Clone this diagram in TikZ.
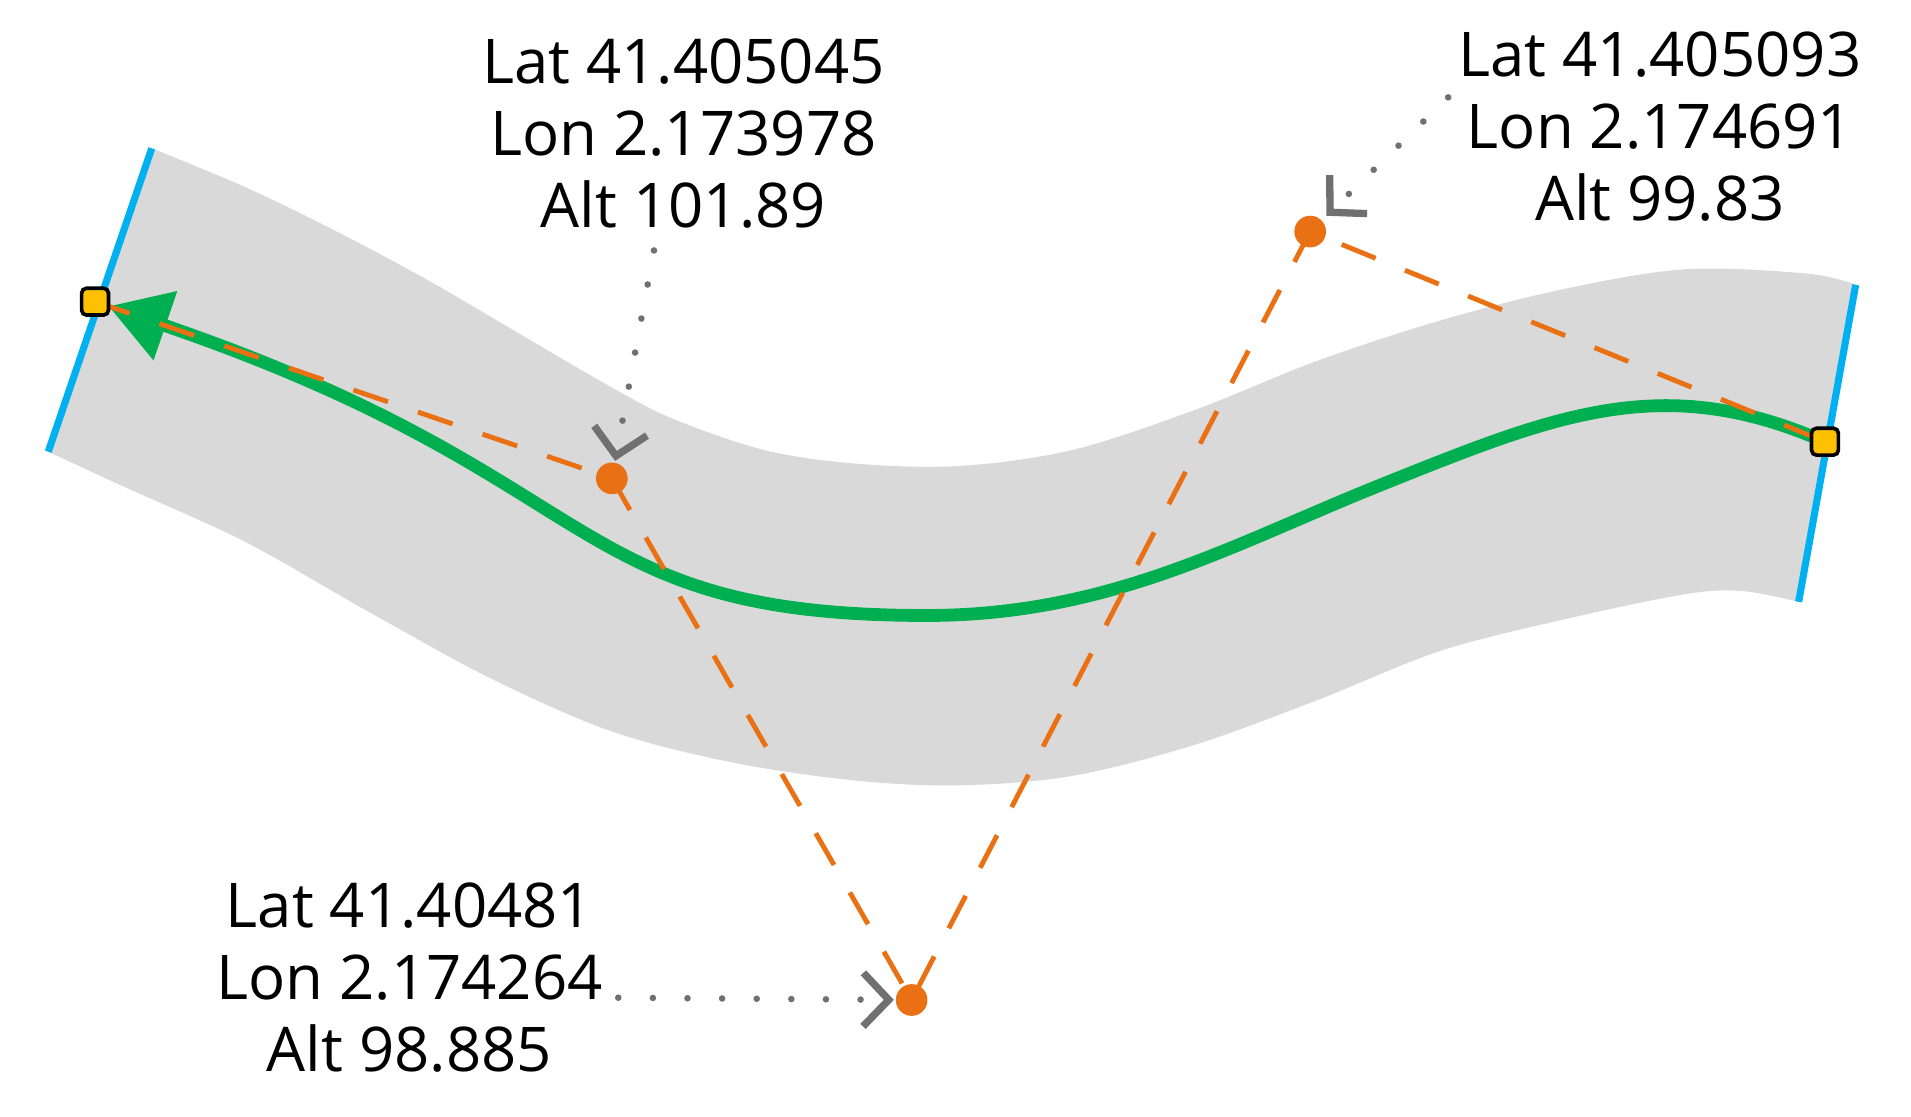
\documentclass[tikz,border=0pt]{standalone}
\usepackage{fontspec}
\setmainfont{Open Sans}
\usetikzlibrary{arrows.meta}
\definecolor{bandgray}{HTML}{D9D9D9}
\definecolor{capblue}{HTML}{00B0F0}
\definecolor{pathgreen}{HTML}{00B050}
\definecolor{ctrlorange}{HTML}{EA7014}
\definecolor{sqyellow}{HTML}{FFC000}
\definecolor{callgray}{HTML}{707070}
\pgfdeclarelayer{lyband}
\pgfdeclarelayer{lylines}
\pgfsetlayers{lyband,lylines,main}
\tikzset{
  ysq/.style={rectangle, draw=black, line width=1.5pt, fill=sqyellow, minimum size=11pt, inner sep=0pt, outer sep=0pt, rounded corners=2pt},
  odot/.style={circle, fill=ctrlorange, minimum size=13pt, inner sep=0pt, outer sep=0pt},
  bandcap/.style={draw=capblue, line width=2.9pt},
  greenline/.style={draw=pathgreen, line width=5.25pt},
  ctrlline/.style={draw=ctrlorange, line width=2pt, dash pattern=on 15pt off 13pt},
  callout/.style={draw=callgray, line width=2.7pt, line cap=round, dash pattern=on 0pt off 14.2pt, -{Straight Barb[length=10.5pt,width=22pt,line width=3pt]}},
  lbl/.style={align=center, inner sep=0pt, outer sep=0pt, font=\fontsize{25.3pt}{29.5pt}\selectfont}
}
\begin{document}
\begin{tikzpicture}[x=0.5pt, y=-0.5pt]
\useasboundingbox (0,0) rectangle (1568,916);
% nodes
\node[ysq] (s0) at (78,247.5) {};
\node[ysq] (s4) at (1497.4,362.4) {};
\node[odot] (p1) at (502,392.5) {};
\node[odot] (p2) at (748,820.5) {};
\node[odot] (p3) at (1075,190) {};
\begin{pgfonlayer}{lyband}
\fill[white] (0,0) rectangle (1568,916);
\fill[bandgray] plot[smooth, tension=0.55] coordinates {(124.5,121.7) (201,153.4) (276.4,190) (351.8,230.3) (427,274.3) (502.5,318.2) (552.8,343.9) (628,369.5) (703.5,380.5) (788,382.3) (880,369.2) (980.6,336.3) (1081,296) (1181.7,263) (1282,237.4) (1382.8,220.9) (1483,224.5) (1522.6,233.7)}
  -- plot[smooth, tension=0.55] coordinates {(1475.8,493.8) (1430,485) (1382.8,487.5) (1282,508.5) (1181.7,534.1) (1081,574.4) (980.6,611) (880,636.6) (788,644.3) (703.5,640.6) (603,626) (502.5,600.3) (402,556.3) (301.5,501.4) (201,444.5) (100.5,398.8) (39.6,370.6)} -- cycle;
\draw[bandcap] (124.5,121.7) -- (39.6,370.6);
\draw[bandcap] (1522.6,233.7) -- (1475.8,493.8);
\end{pgfonlayer}
\begin{pgfonlayer}{lylines}
\draw[greenline, -{Triangle[length=24.7pt,width=28.6pt]}] (s4) .. controls (1358.5,305.7) and (1270.6,342.7) .. (1131.4,398.5) .. controls (1010.8,446.9) and (910,505) .. (760,505) .. controls (460,505) and (503.7,393.3) .. (s0);
\draw[ctrlline] (s0.center) -- (p1.center) -- (p2.center) -- (p3.center) -- (s4.center);
\end{pgfonlayer}
% labels
\node[lbl] (t1) at (560.7,109.8) {Lat 41.405045\\Lon 2.173978\\Alt 101.89};
\node[lbl] (t2) at (1362,103.7) {Lat 41.405093\\Lon 2.174691\\Alt 99.83};
\node[lbl] (t3) at (336,801.8) {Lat 41.40481\\Lon 2.174264\\Alt 98.885};
% callouts
\coordinate (a1) at (536.6,205.5);
\coordinate (a2) at (1188.2,79.9);
\coordinate (a3) at (507.3,818.6);
\draw[callout, shorten >=0.8pt] (a1) -- (p1);
\draw[callout, shorten >=2.8pt] (a2) -- (p3);
\draw[callout, shorten >=0.8pt] (a3) -- (p2);
\end{tikzpicture}
\end{document}
